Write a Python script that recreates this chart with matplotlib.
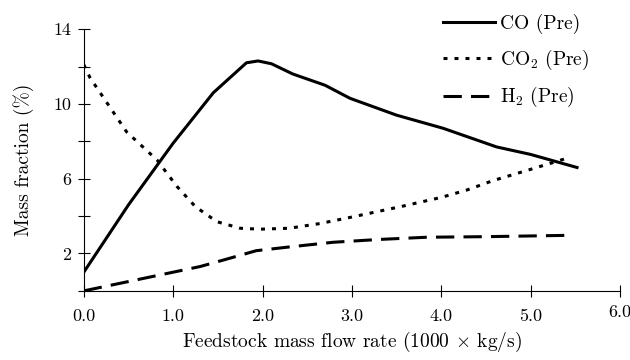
import numpy as np
import matplotlib
matplotlib.use('Agg')
import matplotlib.pyplot as plt

plt.rcParams['font.family'] = ['cmr10', 'DejaVu Serif']
plt.rcParams['mathtext.fontset'] = 'cm'
plt.rcParams['axes.formatter.use_mathtext'] = True

# values
co_x = [0.0, 0.5, 1.0, 1.45, 1.82, 1.95, 2.1, 2.34, 2.7, 2.98, 3.5, 4.02, 4.62, 5.0, 5.52]
co_y = [1.0, 4.6, 7.9, 10.6, 12.2, 12.3, 12.15, 11.6, 11.0, 10.3, 9.4, 8.7, 7.7, 7.3, 6.6]

co2_x = [0.0, 0.07, 0.48, 0.82, 1.04, 1.25, 1.49, 1.75, 1.97, 2.3, 2.64, 3.0, 3.54, 4.0, 4.29, 4.58, 5.0, 5.41]
co2_y = [12.1, 11.4, 8.5, 7.0, 5.6, 4.5, 3.7, 3.35, 3.3, 3.35, 3.6, 3.95, 4.5, 5.0, 5.4, 5.9, 6.5, 7.1]

h2_x = [0.0, 0.5, 1.0, 1.3, 1.6, 1.93, 2.3, 2.79, 3.3, 3.84, 4.5, 5.41]
h2_y = [0.0, 0.5, 1.0, 1.3, 1.7, 2.15, 2.35, 2.6, 2.75, 2.87, 2.9, 2.97]

x_ticks = [0.0, 1.0, 2.0, 3.0, 4.0, 5.0, 6.0]
y_ticks = [0, 2, 4, 6, 8, 10, 12, 14]
y_labels = ['', '2', '', '6', '', '10', '', '14']

fig = plt.figure(figsize=(6.3, 3.6), dpi=100)
ax = fig.add_axes([0.133, 0.192, 0.851, 0.727])

ax.plot(co_x, co_y, 'k-', lw=2.2, label='CO (Pre)')
ax.plot(co2_x, co2_y, 'k', lw=2.2, linestyle=(0, (1.3, 2.3)), label=r'CO$_2$ (Pre)')
ax.plot(h2_x, h2_y, 'k', lw=2.2, linestyle=(0, (6, 3)), label=r'H$_2$ (Pre)')

ax.set_xlim(0, 6.0)
ax.set_ylim(0, 14)
ax.set_xticks(x_ticks)
ax.set_xticklabels(['%.1f' % v for v in x_ticks])
ax.set_yticks(y_ticks)
ax.set_yticklabels(y_labels)
ax.tick_params(direction='inout', length=8, width=0.8, labelsize=13, pad=5)
ax.tick_params(axis='x', pad=9)
# last x label sits a bit higher in the original
ax.get_xticklabels()[-1].set_y(0.015)

for s in ['top', 'right']:
    ax.spines[s].set_visible(False)
ax.spines['left'].set_linewidth(0.8)
ax.spines['bottom'].set_linewidth(0.8)

ax.set_xlabel(r'Feedstock mass flow rate (1000 $\times$ kg/s)', fontsize=14, labelpad=4)
ax.set_ylabel('Mass fraction (%)', fontsize=14, labelpad=14)

fig.legend(loc='upper left', bbox_to_anchor=(0.675, 1.01), frameon=False,
           fontsize=14, handlelength=2.7, handletextpad=0.25, labelspacing=0.7)

fig.savefig('out.png', dpi=100)
